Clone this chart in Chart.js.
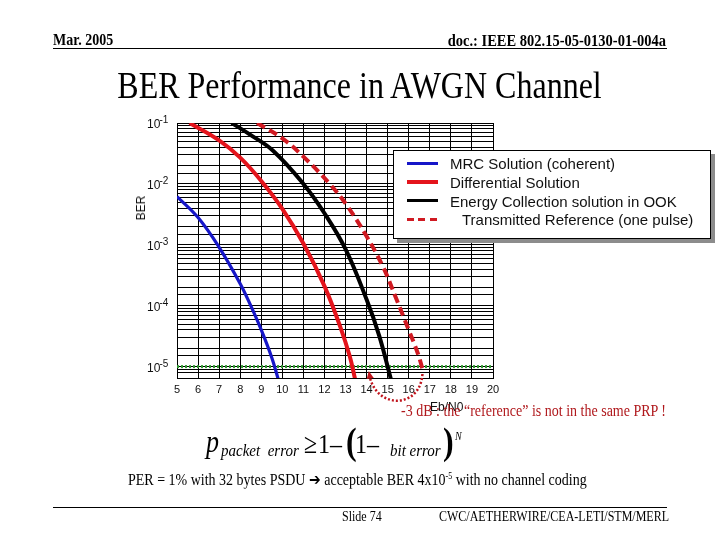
<!DOCTYPE html>
<html>
<head>
<meta charset="utf-8">
<script src="https://cdn.jsdelivr.net/npm/chart.js@4"></script>
<style>
html, body { margin: 0; padding: 0; background: #fff; }
#slide { position: relative; width: 720px; height: 540px; overflow: hidden; }
#chart { position: absolute; left: 0; top: 0; }
.t { position: absolute; white-space: nowrap; line-height: 1; color: #000;
     font-family: "Liberation Serif", "Times New Roman", serif;
     transform: scaleY(1.18); transform-origin: 0 0.8375em; }
.s { position: absolute; white-space: nowrap; line-height: 1; color: #111;
     font-family: "Liberation Sans", Arial, sans-serif; }
.i { font-style: italic; }
.rule { position: absolute; left: 53px; width: 614px; height: 0; border-top: 1.5px solid #000; }
#legend { position: absolute; left: 393px; top: 150px; width: 316px; height: 87px;
          background: #fff; border: 1px solid #000; box-shadow: 4px 4px 0 #8c8c8c; }
#legend .sample { position: absolute; left: 13px; width: 31px; }
#legend .lab { position: absolute; left: 56px; font-size: 15px; line-height: 1; color: #111;
               white-space: nowrap; font-family: "Liberation Sans", Arial, sans-serif; }
</style>
</head>
<body>
<div id="slide">
  <canvas id="chart" width="720" height="540"></canvas>

  <div class="t" style="left:53px; top:34.3px; font-size:14px; font-weight:bold">Mar. 2005</div>
  <div class="t" style="right:54px; top:33.9px; font-size:14.5px; font-weight:bold">doc.: IEEE 802.15-05-0130-01-004a</div>
  <div class="rule" style="top:47.5px"></div>
  <div class="t" style="left:0; width:719px; text-align:center; top:71.2px; font-size:32px">BER Performance in AWGN Channel</div>

  <div class="s" style="left:141px; top:208px; font-size:12px; transform:translate(-50%,-50%) rotate(-90deg)">BER</div>
  <div class="s" style="left:430px; top:400.8px; font-size:12px">Eb/N0</div>
  <div class="t" style="left:401px; top:405.3px; font-size:14px; color:#b0181c">-3 dB : the “reference” is not in the same PRP !</div>

  <div class="t i" style="left:206px; top:431px; font-size:26px">p</div>
  <div class="t i" style="left:221px; top:444.4px; font-size:15px; white-space:pre">packet  error</div>
  <div class="t" style="left:304px; top:433.2px; font-size:24px">≥</div>
  <div class="t" style="left:318px; top:433.2px; font-size:24px">1</div>
  <div class="t" style="left:330px; top:433.2px; font-size:24px">–</div>
  <div class="t" style="left:346px; top:427px; font-size:32px; font-weight:bold">(</div>
  <div class="t" style="left:355px; top:433.2px; font-size:24px">1</div>
  <div class="t" style="left:367px; top:433.2px; font-size:24px">–</div>
  <div class="t i" style="left:390px; top:444.4px; font-size:15px">bit error</div>
  <div class="t" style="left:443px; top:427px; font-size:32px; font-weight:bold">)</div>
  <div class="t i" style="left:455px; top:431.6px; font-size:10px">N</div>

  <div class="t" style="left:128px; top:473.3px; font-size:14px">PER = 1% with 32 bytes PSDU <span style="font-family:'DejaVu Sans'; font-size:14px; font-weight:bold">➔</span> acceptable BER 4x10<span style="font-size:8px; vertical-align:5px">-5</span> with no channel coding</div>

  <div class="rule" style="top:507px"></div>
  <div class="t" style="left:342px; top:511px; font-size:12px">Slide 74</div>
  <div class="t" style="right:51px; top:511px; font-size:12px">CWC/AETHERWIRE/CEA-LETI/STM/MERL</div>

  <div id="legend"></div>
</div>

<script>
// Eb/N0 (dB) and BER
const seriesNames = [
    "MRC Solution (coherent)",
    "Differential Solution",
    "Energy Collection solution in OOK",
    "Transmitted Reference (one pulse)"
];

const mrcEbN0 = [5, 6, 7, 8, 8.5, 9, 9.5, 9.8];
const mrcBer = [6.2e-3, 2.8e-3, 9.1e-4, 2.3e-4, 1.0e-4, 4.0e-5, 1.4e-5, 6.3e-6];

const diffEbN0 = [5.6, 7, 8, 9, 10, 11, 12, 12.75, 13.2, 13.45];
const diffBer = [1e-1, 5.2e-2, 2.7e-2, 1.12e-2, 3.9e-3, 1.05e-3, 2.1e-4, 4.5e-5, 1.48e-5, 6.3e-6];

const ookEbN0 = [7.6, 8.45, 9.56, 11, 12, 13, 14, 14.6, 15.15];
const ookBer = [1e-1, 6.5e-2, 3.5e-2, 1e-2, 3.3e-3, 8.5e-4, 1.26e-4, 3.2e-5, 6.3e-6];

const trEbN0 = [8.8, 10, 11, 12.25, 13.05, 14, 14.8, 15.4, 16, 16.45, 16.7];
const trBer = [1e-1, 5.6e-2, 2.8e-2, 1e-2, 4.5e-3, 1.38e-3, 4.2e-4, 1.32e-4, 4.0e-5, 1.58e-5, 7.9e-6];

const targetEbN0 = [5, 20];
const targetBer = [1e-5, 1e-5];

// labelled decades on the BER axis
const berDecades = [-1, -2, -3, -4, -5];

// dotted arrow: TR curve end shifted back by 3 dB
const refArrowFrom = 16.65;
const refArrowTo = 14.15;

const colors = ["#1616c8", "#e4141c", "#000000", "#d01a22"];
const widths = [3.2, 4, 4, 4];

function points(xs, ys) {
    return xs.map((x, i) => ({ x: x, y: ys[i] }));
}

function curve(i, xs, ys, dash) {
    return {
        label: seriesNames[i],
        data: points(xs, ys),
        borderColor: colors[i],
        borderWidth: widths[i],
        borderDash: dash || [],
        pointRadius: 0,
        tension: 0.4,
        clip: 0
    };
}

const decadeLabels = {
    id: "decadeLabels",
    afterDraw(chart) {
        const ctx = chart.ctx;
        const y = chart.scales.y;
        const left = chart.chartArea.left;
        ctx.save();
        ctx.fillStyle = "#111";
        ctx.textAlign = "left";
        ctx.textBaseline = "alphabetic";
        berDecades.forEach((e) => {
            const py = y.getPixelForValue(Math.pow(10, e));
            ctx.font = "12px 'Liberation Sans', Arial, sans-serif";
            ctx.fillText("10", left - 30, py + 5);
            ctx.font = "10px 'Liberation Sans', Arial, sans-serif";
            ctx.fillText("-" + (-e), left - 17.5, py);
        });
        ctx.restore();
    }
};

const arrowPlugin = {
    id: "prpArrow",
    afterDraw(chart) {
        const ctx = chart.ctx;
        const x = chart.scales.x;
        const yb = chart.chartArea.bottom;
        const x0 = x.getPixelForValue(refArrowFrom);
        const x1 = x.getPixelForValue(refArrowTo);
        ctx.save();
        ctx.strokeStyle = "#c0141c";
        ctx.fillStyle = "#c0141c";
        ctx.lineWidth = 2.5;
        ctx.setLineDash([2, 2]);
        ctx.beginPath();
        ctx.moveTo(x0, yb - 4);
        ctx.bezierCurveTo(x0 - 2, yb + 30, x1 + 8, yb + 32, x1, yb - 1);
        ctx.stroke();
        ctx.setLineDash([]);
        ctx.beginPath();
        ctx.moveTo(x1 - 1, yb - 7);
        ctx.lineTo(x1 + 4, yb);
        ctx.lineTo(x1 - 3, yb + 1);
        ctx.closePath();
        ctx.fill();
        ctx.restore();
    }
};

Chart.defaults.font.family = "'Liberation Sans', Arial, sans-serif";
Chart.defaults.color = "#111";

const chart = new Chart(document.getElementById("chart"), {
    type: "line",
    data: {
        datasets: [
            curve(0, mrcEbN0, mrcBer),
            curve(1, diffEbN0, diffBer),
            curve(2, ookEbN0, ookBer),
            curve(3, trEbN0, trBer, [9, 5]),
            {
                label: "target",
                data: points(targetEbN0, targetBer),
                borderColor: "#2f9a2f",
                borderWidth: 3,
                borderDash: [2, 2],
                pointRadius: 0
            }
        ]
    },
    options: {
        responsive: false,
        animation: false,
        devicePixelRatio: 1,
        layout: { padding: { left: 127, top: 123, right: 227, bottom: 132 } },
        plugins: { legend: { display: false }, tooltip: { enabled: false } },
        scales: {
            x: {
                type: "linear",
                min: 5,
                max: 20,
                afterFit: (s) => { s.height = 30; },
                grid: { color: "#000", lineWidth: 1, drawTicks: false },
                border: { color: "#000" },
                ticks: { stepSize: 1, autoSkip: false, padding: 5, font: { size: 11 } }
            },
            y: {
                type: "logarithmic",
                min: 6.5e-6,
                max: 1e-1,
                afterFit: (s) => { s.width = 50; },
                grid: { color: "#000", lineWidth: 1, drawTicks: false },
                border: { color: "#000" },
                ticks: { autoSkip: false, callback: () => "" }
            }
        }
    },
    plugins: [decadeLabels, arrowPlugin]
});

// legend box drawn as html from the same series list
const legend = document.getElementById("legend");
const legendIndent = [0, 0, 0, 12];
seriesNames.forEach((name, i) => {
    const cy = 12.5 + i * 18.7;
    const sample = document.createElement("div");
    sample.className = "sample";
    sample.style.top = (cy - widths[i] / 2) + "px";
    sample.style.height = widths[i] - 0.5 + "px";
    if (i === 3) {
        sample.style.background = "repeating-linear-gradient(90deg," + colors[i] + " 0 7px, transparent 7px 11.5px)";
    } else {
        sample.style.background = colors[i];
    }
    const lab = document.createElement("div");
    lab.className = "lab";
    lab.style.top = (cy - 7.4) + "px";
    lab.style.left = (56 + legendIndent[i]) + "px";
    lab.textContent = name;
    legend.appendChild(sample);
    legend.appendChild(lab);
});
</script>
</body>
</html>
